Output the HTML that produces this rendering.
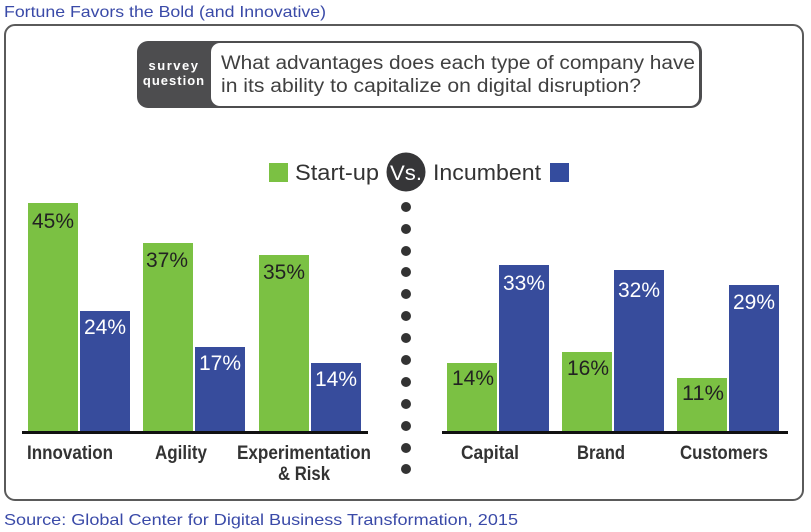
<!DOCTYPE html>
<html><head><meta charset="utf-8"><style>
html,body{margin:0;padding:0;background:#fff;}
svg{display:block;font-family:"Liberation Sans",Arial,sans-serif;}
.n{font-weight:bold;font-size:19px;fill:#333;}
</style></head><body>
<svg width="811" height="532" viewBox="0 0 811 532">
<text x="4" y="17" font-size="16" fill="#3a4aa8" textLength="322" lengthAdjust="spacingAndGlyphs">Fortune Favors the Bold (and Innovative)</text>
<rect x="5" y="25" width="798" height="475" rx="10" fill="#fff" stroke="#5a5a5a" stroke-width="2"/>
<rect x="137" y="41" width="565" height="67" rx="11" fill="#4d4d4f"/>
<rect x="211" y="43" width="488" height="63" rx="9" fill="#fff"/>
<text x="174" y="70" font-size="13" font-weight="bold" fill="#fff" text-anchor="middle" letter-spacing="1.5">survey</text>
<text x="174" y="85" font-size="13" font-weight="bold" fill="#fff" text-anchor="middle" letter-spacing="1">question</text>
<text x="221" y="69" font-size="19" fill="#404040" textLength="474" lengthAdjust="spacingAndGlyphs">What advantages does each type of company have</text>
<text x="221" y="92" font-size="19" fill="#404040" textLength="420" lengthAdjust="spacingAndGlyphs">in its ability to capitalize on digital disruption?</text>
<rect x="269" y="163" width="19" height="19" fill="#7bc143"/>
<text x="295" y="180" font-size="22" fill="#333" textLength="84" lengthAdjust="spacingAndGlyphs">Start-up</text>
<circle cx="406" cy="172" r="19.5" fill="#363638"/>
<text x="406" y="180" font-size="21" fill="#fff" text-anchor="middle" textLength="32" lengthAdjust="spacingAndGlyphs">Vs.</text>
<text x="433" y="180" font-size="22" fill="#333" textLength="108" lengthAdjust="spacingAndGlyphs">Incumbent</text>
<rect x="550" y="163" width="19" height="19" fill="#344c9e"/>
<g fill="#7bc143">
<rect x="28" y="203" width="50" height="229"/><rect x="143" y="243" width="50" height="189"/><rect x="259" y="255" width="50" height="177"/>
<rect x="447" y="363" width="50" height="69"/><rect x="562" y="352" width="50" height="80"/><rect x="677" y="378" width="50" height="54"/>
</g>
<g fill="#374c9c">
<rect x="80" y="311" width="50" height="121"/><rect x="195" y="347" width="50" height="85"/><rect x="311" y="363" width="50" height="69"/>
<rect x="499" y="265" width="50" height="167"/><rect x="614" y="270" width="50" height="162"/><rect x="729" y="285" width="50" height="147"/>
</g>
<g font-size="21" text-anchor="middle">
<text x="53" y="228" fill="#222" textLength="42" lengthAdjust="spacingAndGlyphs">45%</text><text x="105" y="334" fill="#fff" textLength="42" lengthAdjust="spacingAndGlyphs">24%</text>
<text x="167" y="267" fill="#222" textLength="42" lengthAdjust="spacingAndGlyphs">37%</text><text x="220" y="370" fill="#fff" textLength="42" lengthAdjust="spacingAndGlyphs">17%</text>
<text x="284" y="279" fill="#222" textLength="42" lengthAdjust="spacingAndGlyphs">35%</text><text x="336" y="386" fill="#fff" textLength="42" lengthAdjust="spacingAndGlyphs">14%</text>
<text x="473" y="385" fill="#222" textLength="42" lengthAdjust="spacingAndGlyphs">14%</text><text x="524" y="290" fill="#fff" textLength="42" lengthAdjust="spacingAndGlyphs">33%</text>
<text x="588" y="375" fill="#222" textLength="42" lengthAdjust="spacingAndGlyphs">16%</text><text x="639" y="297" fill="#fff" textLength="42" lengthAdjust="spacingAndGlyphs">32%</text>
<text x="703" y="400" fill="#222" textLength="42" lengthAdjust="spacingAndGlyphs">11%</text><text x="754" y="309" fill="#fff" textLength="42" lengthAdjust="spacingAndGlyphs">29%</text>
</g>
<rect x="22" y="431" width="346" height="3" fill="#111"/>
<rect x="442" y="431" width="346" height="3" fill="#111"/>
<g fill="#333">
<circle cx="406" cy="207" r="5"/><circle cx="406" cy="229" r="5"/><circle cx="406" cy="251" r="5"/><circle cx="406" cy="272" r="5"/><circle cx="406" cy="294" r="5"/><circle cx="406" cy="316" r="5"/><circle cx="406" cy="338" r="5"/><circle cx="406" cy="360" r="5"/><circle cx="406" cy="382" r="5"/><circle cx="406" cy="404" r="5"/><circle cx="406" cy="426" r="5"/><circle cx="406" cy="448" r="5"/><circle cx="406" cy="469" r="5"/>
</g>
<g text-anchor="middle">
<text class="n" x="70" y="459" textLength="86" lengthAdjust="spacingAndGlyphs">Innovation</text>
<text class="n" x="181" y="459" textLength="52" lengthAdjust="spacingAndGlyphs">Agility</text>
<text class="n" x="304" y="459" textLength="134" lengthAdjust="spacingAndGlyphs">Experimentation</text>
<text class="n" x="304" y="480" textLength="52" lengthAdjust="spacingAndGlyphs">&amp; Risk</text>
<text class="n" x="490" y="459" textLength="58" lengthAdjust="spacingAndGlyphs">Capital</text>
<text class="n" x="601" y="459" textLength="48" lengthAdjust="spacingAndGlyphs">Brand</text>
<text class="n" x="724" y="459" textLength="88" lengthAdjust="spacingAndGlyphs">Customers</text>
</g>
<text x="4" y="525" font-size="16" fill="#3a4aa8" textLength="514" lengthAdjust="spacingAndGlyphs">Source: Global Center for Digital Business Transformation, 2015</text>
</svg>
</body></html>
